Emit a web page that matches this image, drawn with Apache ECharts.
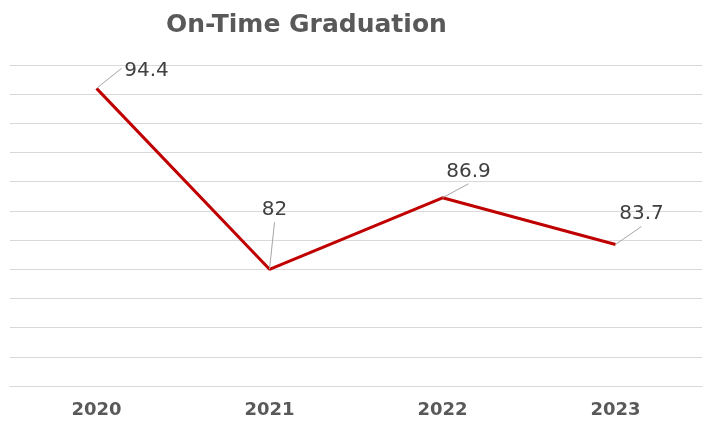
<!DOCTYPE html>
<html>
<head>
<meta charset="utf-8">
<script src="https://cdn.jsdelivr.net/npm/echarts@6/dist/echarts.min.js"></script>
<style>html,body{margin:0;padding:0;background:#fff}#c{width:708px;height:427px}</style>
</head>
<body>
<div id="c"></div>
<script>
const categories = ['2020', '2021', '2022', '2023'];
const values = [94.4, 82, 86.9, 83.7];
const labelTexts = ['94.4', '82', '86.9', '83.7'];
// style offsets (pixels, relative to each data point): leader-line end and text centre
const leaderEnds = [[25, -20], [5, -47], [26, -14], [26, -18]];
const textCenters = [[50, -18], [5, -59], [26, -26], [26, -31]];

const chart = echarts.init(document.getElementById('c'), null, {renderer: 'canvas'});
chart.setOption({
  animation: false,
  backgroundColor: '#ffffff',
  title: {
    text: 'On-Time Graduation',
    left: 166,
    top: 13,
    padding: 0,
    textStyle: {fontFamily: 'DejaVu Sans', fontWeight: 'bold', fontSize: 25, color: '#595959'}
  },
  grid: {left: 10, right: 6, top: 65, bottom: 41, containLabel: false},
  xAxis: {
    type: 'category',
    data: categories,
    boundaryGap: true,
    axisLine: {show: true, lineStyle: {color: '#d9d9d9', width: 1}},
    axisTick: {show: false},
    axisLabel: {margin: 15, fontFamily: 'DejaVu Sans', fontWeight: 'bold', fontSize: 18, color: '#595959'}
  },
  yAxis: {
    type: 'value',
    min: 74,
    max: 96,
    interval: 2,
    axisLine: {show: false},
    axisTick: {show: false},
    axisLabel: {show: false},
    splitLine: {show: true, lineStyle: {color: '#d9d9d9', width: 1}}
  },
  series: [{
    type: 'line',
    data: values,
    symbol: 'none',
    lineStyle: {color: '#C00000', width: 3},
    z: 2
  }, {
    type: 'custom',
    data: values.map((v, i) => [i, v]),
    z: 3,
    renderItem: (params, api) => {
      const i = params.dataIndex;
      const p = api.coord([api.value(0), api.value(1)]);
      const le = leaderEnds[i], tc = textCenters[i];
      return {
        type: 'group',
        children: [{
          type: 'line',
          shape: {x1: p[0], y1: p[1], x2: p[0] + le[0], y2: p[1] + le[1]},
          style: {stroke: '#a6a6a6', lineWidth: 1}
        }, {
          type: 'text',
          x: p[0] + tc[0],
          y: p[1] + tc[1],
          style: {
            text: labelTexts[i],
            fontFamily: 'DejaVu Sans',
            fontSize: 20,
            fill: '#404040',
            align: 'center',
            verticalAlign: 'middle'
          }
        }]
      };
    }
  }]
});
</script>
</body>
</html>
